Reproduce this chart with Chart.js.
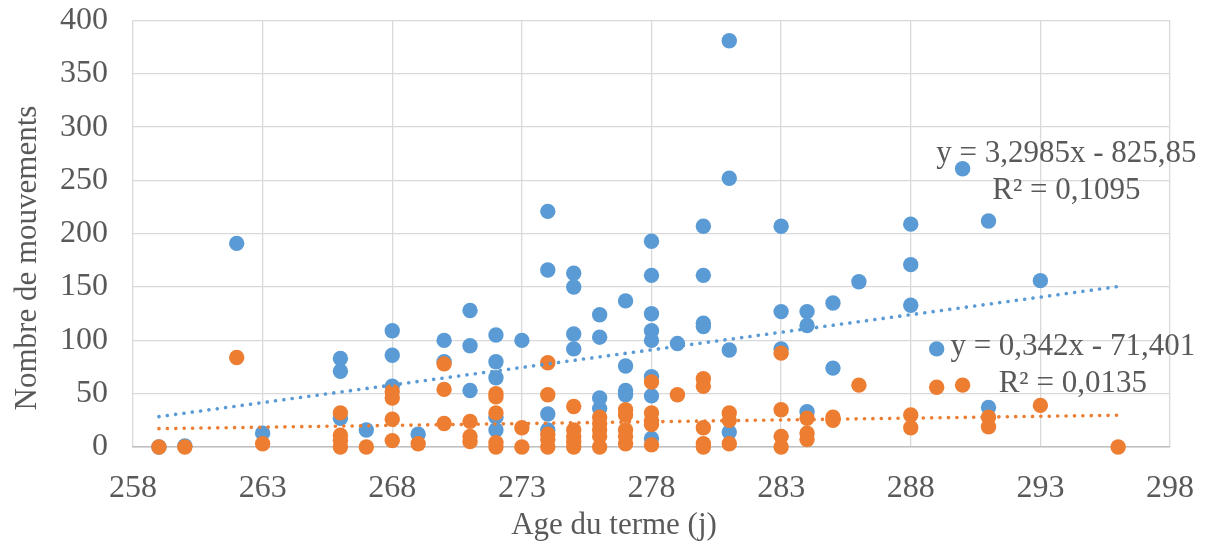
<!DOCTYPE html>
<html>
<head>
<meta charset="utf-8">
<script src="https://cdn.jsdelivr.net/npm/chart.js@4/dist/chart.umd.min.js"></script>
<style>
  html, body { margin: 0; padding: 0; background: #fff; }
  #wrap { width: 1209px; height: 544px; position: relative; }
</style>
</head>
<body>
<div id="wrap"><canvas id="chart"></canvas></div>
<script>
// blue series (age du terme, nombre de mouvements)
const blueX = [259, 260, 262, 263, 266, 266, 266, 267, 268, 268, 268, 269, 270, 270,
  271, 271, 271, 272, 272, 272, 272, 272, 273, 274, 274, 274, 274,
  275, 275, 275, 275, 276, 276, 276, 276, 277, 277, 277, 277,
  278, 278, 278, 278, 278, 278, 278, 278, 279, 280, 280, 280, 280,
  281, 281, 281, 281, 283, 283, 283, 284, 284, 284, 285, 285, 286,
  288, 288, 288, 289, 290, 291, 291, 293];
const blueY = [0, 1, 191, 13, 83, 71, 27, 16, 109, 86, 57, 12, 100, 80,
  128, 95, 53, 105, 80, 65, 28, 16, 100, 221, 166, 31, 16,
  163, 150, 106, 92, 124, 103, 46, 36, 137, 76, 53, 49,
  193, 161, 125, 109, 100, 66, 48, 8, 97, 207, 161, 116, 113,
  381, 252, 91, 14, 207, 127, 92, 127, 114, 33, 135, 74, 155,
  209, 171, 133, 92, 261, 212, 37, 156];

// orange series
const orangeX = [259, 260, 262, 263, 266, 266, 266, 266, 267, 268, 268, 268, 268, 269,
  270, 270, 270, 271, 271, 271, 272, 272, 272, 272, 272, 273, 273,
  274, 274, 274, 274, 274, 275, 275, 275, 275, 275, 276, 276, 276, 276, 276,
  277, 277, 277, 277, 277, 278, 278, 278, 278, 278, 279,
  280, 280, 280, 280, 280, 281, 281, 281, 283, 283, 283, 283,
  284, 284, 284, 285, 285, 286, 288, 288, 289, 290, 291, 291, 293, 296];
const orangeY = [0, 0, 84, 3, 32, 11, 6, 0, 0, 52, 46, 26, 6, 3,
  78, 54, 22, 24, 10, 5, 50, 47, 32, 4, 0, 18, 0,
  79, 49, 12, 7, 0, 38, 16, 10, 5, 0, 28, 22, 16, 10, 0,
  35, 30, 16, 10, 3, 61, 32, 25, 21, 2, 49,
  64, 57, 18, 3, 0, 32, 25, 3, 88, 35, 10, 0,
  27, 13, 7, 28, 25, 58, 30, 18, 56, 58, 28, 19, 39, 0];

const blueTrendX = [259, 296];
const blueTrendY = [28.5, 150.5];
const orangeTrendX = [259, 296];
const orangeTrendY = [17.2, 29.8];

// equation labels: text lines and anchor in data units
const blueEq = ['y = 3,2985x - 825,85', 'R² = 0,1095'];
const blueEqAt = [294.0, 267.2];
const orangeEq = ['y = 0,342x - 71,401', 'R² = 0,0135'];
const orangeEqAt = [294.25, 86.2];

const xTitle = 'Age du terme (j)';
const yTitle = 'Nombre de mouvements';

const BLUE = '#5B9BD5';
const ORANGE = '#ED7D31';
const TEXT = '#595959';
const FONT = "'Liberation Serif', 'Times New Roman', serif";

function pts(xs, ys) { return xs.map((v, i) => ({ x: v, y: ys[i] })); }

// equation boxes + axis titles (Excel puts the titles off the plot centre)
const eqLabels = {
  id: 'eqLabels',
  afterDatasetsDraw(chart) {
    const { ctx, scales: { x, y } } = chart;
    ctx.save();
    ctx.fillStyle = TEXT;
    ctx.font = '31px ' + FONT;
    ctx.textAlign = 'center';
    ctx.textBaseline = 'alphabetic';
    [[blueEq, blueEqAt], [orangeEq, orangeEqAt]].forEach(([lines, at]) => {
      const px = x.getPixelForValue(at[0]);
      const py = y.getPixelForValue(at[1]);
      lines.forEach((t, i) => ctx.fillText(t, px, py + i * 36.5));
    });
    ctx.fillText(xTitle, 614, 534);
    ctx.translate(28, 258);
    ctx.rotate(-Math.PI / 2);
    ctx.textBaseline = 'middle';
    ctx.fillText(yTitle, 0, 0);
    ctx.restore();
  }
};

new Chart(document.getElementById('chart'), {
  type: 'scatter',
  data: {
    datasets: [
      { label: 'bleu', data: pts(blueX, blueY), backgroundColor: BLUE, borderWidth: 0,
        pointRadius: 7.7, order: 4, clip: false },
      { label: 'orange', data: pts(orangeX, orangeY), backgroundColor: ORANGE, borderWidth: 0,
        pointRadius: 7.7, order: 3, clip: false },
      { label: 'tendance bleu', data: pts(blueTrendX, blueTrendY), showLine: true, pointRadius: 0,
        borderColor: BLUE, borderWidth: 3.6, borderDash: [0.1, 8.3], borderCapStyle: 'round', order: 2 },
      { label: 'tendance orange', data: pts(orangeTrendX, orangeTrendY), showLine: true, pointRadius: 0,
        borderColor: ORANGE, borderWidth: 3.6, borderDash: [0.1, 8.3], borderCapStyle: 'round', order: 1 }
    ]
  },
  options: {
    responsive: true,
    maintainAspectRatio: false,
    animation: false,
    layout: { padding: { top: 20.5, right: 39, left: 0, bottom: 0 } },
    plugins: { legend: { display: false }, tooltip: { enabled: false } },
    scales: {
      x: {
        type: 'linear', min: 258, max: 298,
        afterFit: s => { s.height = 97; s.paddingLeft = 0; s.paddingRight = 0; },
        ticks: { stepSize: 5, color: TEXT, font: { family: FONT, size: 32 }, padding: 22 },
        grid: { color: '#D9D9D9', lineWidth: 1.3, drawTicks: false },
        border: { color: '#BFBFBF', width: 1.5 }
      },
      y: {
        min: 0, max: 400,
        afterFit: s => { s.width = 133; s.paddingTop = 0; s.paddingBottom = 0; },
        ticks: { stepSize: 50, color: TEXT, font: { family: FONT, size: 32 }, padding: 25 },
        grid: { color: '#D9D9D9', lineWidth: 1.3, drawTicks: false },
        border: { display: false }
      }
    }
  },
  plugins: [eqLabels]
});
</script>
</body>
</html>
